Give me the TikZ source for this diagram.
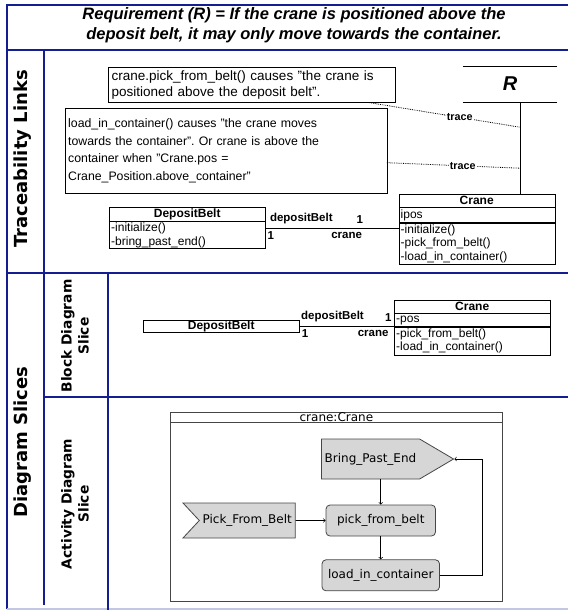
\documentclass[tikz,border=0pt]{standalone}
\usepackage{fontspec}
\setmainfont{Liberation Sans}
\newfontfamily\lanefont{DejaVu Sans}
\usetikzlibrary{shapes,shapes.symbols,arrows,positioning}

\definecolor{laneblue}{RGB}{20,30,145}
\definecolor{actfill}{RGB}{214,214,214}
\definecolor{actdraw}{RGB}{70,70,70}

\tikzstyle{lane} = [draw=laneblue, line width=2.5pt]
\tikzstyle{lanetitle} = [rotate=90, align=center, font=\lanefont\bfseries\fontsize{18}{20}\selectfont]
\tikzstyle{slicetitle} = [rotate=90, align=center, font=\lanefont\bfseries\fontsize{13.8}{17}\selectfont]
\tikzstyle{note} = [rectangle, draw, anchor=north west, align=left, inner xsep=3.5pt,
    font=\fontsize{13.5}{16}\selectfont]
\tikzstyle{classhead} = [rectangle, draw, text width=152pt, inner xsep=2pt, inner ysep=0pt,
    align=center, font=\bfseries\fontsize{12}{13}\selectfont]
\tikzstyle{classpart} = [classhead, align=left, font=\fontsize{12}{13.6}\selectfont]
\tikzstyle{role} = [font=\bfseries\fontsize{11.5}{12}\selectfont, inner sep=1pt]
\tikzstyle{trace} = [draw, densely dotted, line width=0.8pt]
\tikzstyle{assoc} = [draw, line width=1.3pt]
\tikzstyle{action} = [rectangle, rounded corners=4pt, draw=actdraw, fill=actfill, line width=0.8pt,
    font=\lanefont\fontsize{12}{14}\selectfont]
\tikzstyle{sendsig} = [signal, signal to=east, draw=actdraw, fill=actfill, line width=0.8pt,
    font=\lanefont\fontsize{12}{14}\selectfont]
\tikzstyle{acceptsig} = [signal, signal from=west, signal to=nowhere, draw=actdraw, fill=actfill,
    line width=0.8pt, font=\lanefont\fontsize{12}{14}\selectfont]
\tikzstyle{line} = [draw, ->, line width=0.7pt]

\begin{document}
\frenchspacing
\begin{tikzpicture}[x=1pt, y=-1pt]
		\useasboundingbox (0,0) rectangle (568,610);
		% Swimlane frame
		\draw[lane] (568,5) -- (7,5) -- (7,609);
		\draw[lane, draw=laneblue!25] (7,609) -- (568,609);
		\draw[lane] (7,50) -- (568,50);
		\draw[lane] (44,50) -- (44,605);
		\draw[lane] (7,273) -- (568,273);
		\draw[lane] (108,273) -- (108,610);
		\draw[lane] (44,397) -- (568,397);
		% Lane titles
		\node[align=center, font=\bfseries\itshape\fontsize{16.5}{20}\selectfont] (reqtext) at (294,25)
			{Requirement (R) = If the crane is positioned above the\\deposit belt, it may only move towards the container.};
		\node[lanetitle] (tracelane) at (23,159) {Traceability Links};
		\node[lanetitle] (slicelane) at (23,442) {Diagram Slices};
		\node[slicetitle] (blocklane) at (75,336) {Block Diagram\\Slice};
		\node[slicetitle] (activitylane) at (75,504) {Activity Diagram\\Slice};
		% Traceability links
		\node[note, text width=280pt, minimum height=33pt] (pickNote) at (108,67)
			{crane.pick\_from\_belt() causes "the crane is\\positioned above the deposit belt".};
		\node[note, text width=315pt, minimum height=85pt, font=\fontsize{12.3}{17.5}\selectfont] (loadNote) at (64.5,108)
			{load\_in\_container() causes "the crane moves\\towards the container". Or crane is above the\\container when "Crane.pos =\\Crane\_Position.above\_container"};
		\node[minimum width=94pt, minimum height=36pt, font=\bfseries\itshape\fontsize{20}{20}\selectfont] (req) at (510,84) {R};
		\draw (req.north west) -- (req.north east);
		\draw (req.south west) -- (req.south east);
		\node[classhead, minimum height=13pt, anchor=north west] (craneT) at (398.5,194) {Crane};
		\node[classpart, minimum height=15pt, below=0pt of craneT] (craneTattr) {ipos};
		\node[classpart, minimum height=41pt, below=0pt of craneTattr] (craneTops)
			{-initialize()\\-pick\_from\_belt()\\-load\_in\_container()};
		\node[classhead, minimum height=14pt, anchor=north west] (beltT) at (109,207) {DepositBelt};
		\node[classpart, minimum height=27pt, below=0pt of beltT] (beltTops) {-initialize()\\-bring\_past\_end()};
		% Helper coordinates
		\coordinate (lifeTop) at ([xshift=10pt]req.south);
		\coordinate (trace1) at ([yshift=-25pt]lifeTop);
		\coordinate (trace2) at ([yshift=-66pt]lifeTop);
		\coordinate (assocT) at ([yshift=-7pt]beltTops.north east);
		% Links
		\draw (lifeTop) -- (lifeTop |- craneT.north);
		\draw[trace] ([xshift=-26pt]pickNote.south east) -- node[role, pos=0.6, fill=white, font=\bfseries\fontsize{10.8}{12}\selectfont] {trace} (trace1);
		\draw[trace] ([yshift=-12pt]loadNote.east) -- node[role, pos=0.57, fill=white, font=\bfseries\fontsize{10.8}{12}\selectfont] {trace} (trace2);
		\path[assoc] (assocT) -- node[role, pos=0.27, above=3pt] {depositBelt} node[role, pos=0.71, above=3pt] {1}
			node[role, pos=0.04, below=2pt] {1} node[role, pos=0.61, below=2pt] {crane} (assocT -| craneTops.west);
		% Block diagram slice
		\node[classhead, minimum height=12pt, anchor=north west] (beltB) at (143,320) {DepositBelt};
		\node[classhead, minimum height=13pt, anchor=north west] (craneB) at (394,300) {Crane};
		\node[classpart, minimum height=13pt, below=0pt of craneB] (craneBattr) {-pos};
		\node[classpart, minimum height=28pt, below=0pt of craneBattr] (craneBops) {-pick\_from\_belt()\\-load\_in\_container()};
		\path[assoc] (beltB.east) -- node[role, pos=0.35, above=3pt] {depositBelt} node[role, pos=0.94, above=3pt] {1}
			node[role, pos=0.06, below=2pt] {1} node[role, pos=0.78, below=2pt] {crane} (beltB.east -| craneBops.west);
		% Activity diagram slice
		\node[draw=actdraw, line width=0.8pt, minimum width=332pt, minimum height=189pt, anchor=north west] (craneFrame) at (170,412) {};
		\node[font=\lanefont\fontsize{12}{13}\selectfont, inner sep=0pt, minimum height=10pt, below=0pt of craneFrame.north] (frameLabel) {crane:Crane};
		\draw[actdraw, line width=0.8pt] (craneFrame.west |- frameLabel.south) -- (craneFrame.east |- frameLabel.south);
		\node[action, minimum width=109.5pt, minimum height=31pt] (pickAct) at (380.75,520.5) {pick\_from\_belt};
		\node[action, minimum width=117.5pt, minimum height=31pt, below=23pt of pickAct] (loadAct) {load\_in\_container};
		\node[sendsig, minimum width=119pt, minimum height=40pt, signal pointer angle=61, anchor=west] (bring) at (321,459) {Bring\_Past\_End};
		\node[acceptsig, minimum width=109.5pt, minimum height=35pt, signal pointer angle=94, left=30pt of pickAct] (pickEvent) {Pick\_From\_Belt};
		\path[line] (bring.south -| pickAct.north) -- (pickAct.north);
		\path[line] (pickEvent) -- (pickAct);
		\path[line] (pickAct) -- (loadAct);
		\path[line] (loadAct.east) -- ++(42,0) |- (bring.east);
	\end{tikzpicture}
\end{document}
